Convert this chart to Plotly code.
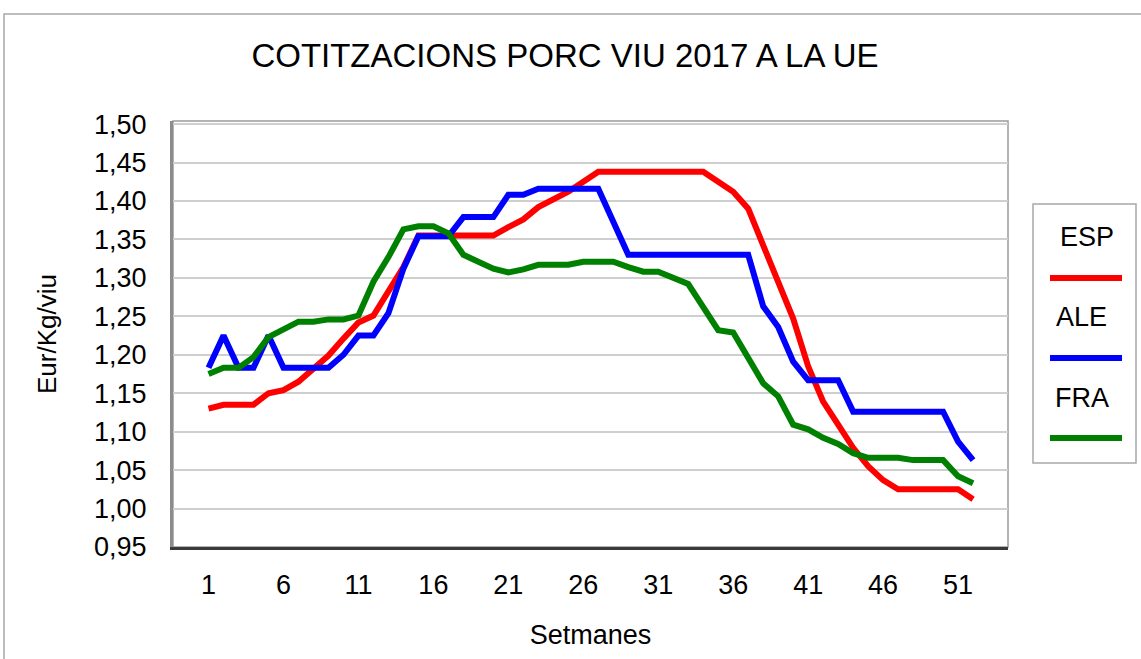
import plotly.graph_objects as go

weeks = list(range(1, 53))

esp = [1.130, 1.135, 1.135, 1.135, 1.150, 1.154, 1.165, 1.182, 1.199, 1.221,
       1.242, 1.251, 1.284, 1.314, 1.355, 1.355, 1.355, 1.355, 1.355, 1.355,
       1.366, 1.376, 1.392, 1.401, 1.412, 1.425, 1.438, 1.438, 1.438, 1.438,
       1.438, 1.438, 1.438, 1.438, 1.425, 1.412, 1.390, 1.342, 1.297, 1.247,
       1.185, 1.139, 1.109, 1.079, 1.055, 1.037, 1.025, 1.025, 1.025, 1.025,
       1.025, 1.012]

ale = [1.183, 1.225, 1.183, 1.183, 1.225, 1.183, 1.183, 1.183, 1.183, 1.200,
       1.225, 1.225, 1.254, 1.312, 1.354, 1.354, 1.354, 1.379, 1.379, 1.379,
       1.408, 1.408, 1.416, 1.416, 1.416, 1.416, 1.416, 1.373, 1.330, 1.330,
       1.330, 1.330, 1.330, 1.330, 1.330, 1.330, 1.330, 1.263, 1.236, 1.191,
       1.167, 1.167, 1.167, 1.126, 1.126, 1.126, 1.126, 1.126, 1.126, 1.126,
       1.087, 1.063]

fra = [1.175, 1.183, 1.183, 1.197, 1.223, 1.234, 1.243, 1.243, 1.246, 1.246,
       1.251, 1.295, 1.327, 1.363, 1.367, 1.367, 1.358, 1.330, 1.321, 1.312,
       1.307, 1.311, 1.317, 1.317, 1.317, 1.321, 1.321, 1.321, 1.314, 1.308,
       1.308, 1.300, 1.292, 1.262, 1.232, 1.229, 1.197, 1.163, 1.146, 1.109,
       1.103, 1.092, 1.084, 1.072, 1.066, 1.066, 1.066, 1.063, 1.063, 1.063,
       1.042, 1.033]

series_names = ["ESP", "ALE", "FRA"]
series_values = [esp, ale, fra]
series_colors = ["#ff0000", "#0000ff", "#008000"]

x_tickvals = list(range(1, 52, 5))
y_tickvals = [0.95, 1.00, 1.05, 1.10, 1.15, 1.20, 1.25, 1.30, 1.35, 1.40, 1.45, 1.50]

FONT = "Liberation Sans, Arial, sans-serif"
W, H = 1141, 659
ML, MR, MT, MB = 173, 133, 121, 112
PW, PH = W - ML - MR, H - MT - MB


def px(x):
    return (x - ML) / PW


def py(y):
    return (H - MB - y) / PH


fig = go.Figure()
for name, vals, col in zip(series_names, series_values, series_colors):
    fig.add_trace(go.Scatter(x=weeks, y=vals, name=name, mode="lines",
                             line=dict(color=col, width=6),
                             showlegend=False))

shapes = [
    # outer chart frame
    dict(type="rect", xref="paper", yref="paper", x0=px(4), x1=px(1150),
         y0=py(670), y1=py(14), line=dict(color="#a8a8a8", width=1.5), layer="below"),
    # plot area border
    dict(type="rect", xref="paper", yref="paper", x0=0, x1=1, y0=0, y1=1,
         line=dict(color="#9a9a9a", width=1.5), layer="below"),
    # legend box
    dict(type="rect", xref="paper", yref="paper", x0=px(1033), x1=px(1136),
         y0=py(463), y1=py(204), line=dict(color="#a8a8a8", width=1.5)),
]
annotations = []
legend_text_y = [237, 317, 398]
legend_text_x = [1087, 1081, 1082]
legend_line_y = [278, 358, 438]
for name, col, ty, tx, ly in zip(series_names, series_colors, legend_text_y, legend_text_x, legend_line_y):
    annotations.append(dict(text=name, xref="paper", yref="paper", x=px(tx), y=py(ty),
                            xanchor="center", yanchor="middle", showarrow=False,
                            font=dict(family=FONT, size=27, color="#000000")))
    shapes.append(dict(type="line", xref="paper", yref="paper", x0=px(1050), x1=px(1122),
                       y0=py(ly), y1=py(ly), line=dict(color=col, width=6)))

fig.update_layout(
    width=W, height=H,
    margin=dict(l=ML, r=MR, t=MT, b=MB, autoexpand=False),
    paper_bgcolor="white", plot_bgcolor="white",
    separators=",.",
    font=dict(family=FONT, size=26, color="#000000"),
    title=dict(text="COTITZACIONS PORC VIU 2017 A LA UE", x=px(565), xanchor="center",
               xref="paper", y=1 - 55 / H, yanchor="middle", yref="container",
               font=dict(family=FONT, size=33, color="#000000")),
    xaxis=dict(range=[-1.37, 54.33], tickvals=x_tickvals, ticks="outside", ticklen=12,
               tickcolor="rgba(0,0,0,0)", showgrid=False, zeroline=False,
               showline=True, linecolor="#3a3a3a", linewidth=3,
               tickfont=dict(family=FONT, size=27),
               title=dict(text="Setmanes", standoff=26, font=dict(family=FONT, size=27))),
    yaxis=dict(range=[0.95, 1.504], tickvals=y_tickvals, tickformat=".2f",
               ticks="outside", ticklen=18, tickcolor="rgba(0,0,0,0)",
               showgrid=True, gridcolor="#cfcfcf", gridwidth=1.5, zeroline=False,
               showline=True, linecolor="#8c8c8c", linewidth=3,
               tickfont=dict(family=FONT, size=27),
               title=dict(text="Eur/Kg/viu", standoff=30, font=dict(family=FONT, size=26))),
    shapes=shapes,
    annotations=annotations,
)

fig.write_html("out.html", config={"displayModeBar": False},
               post_script="document.body.style.margin='0';document.body.style.padding='0';")
